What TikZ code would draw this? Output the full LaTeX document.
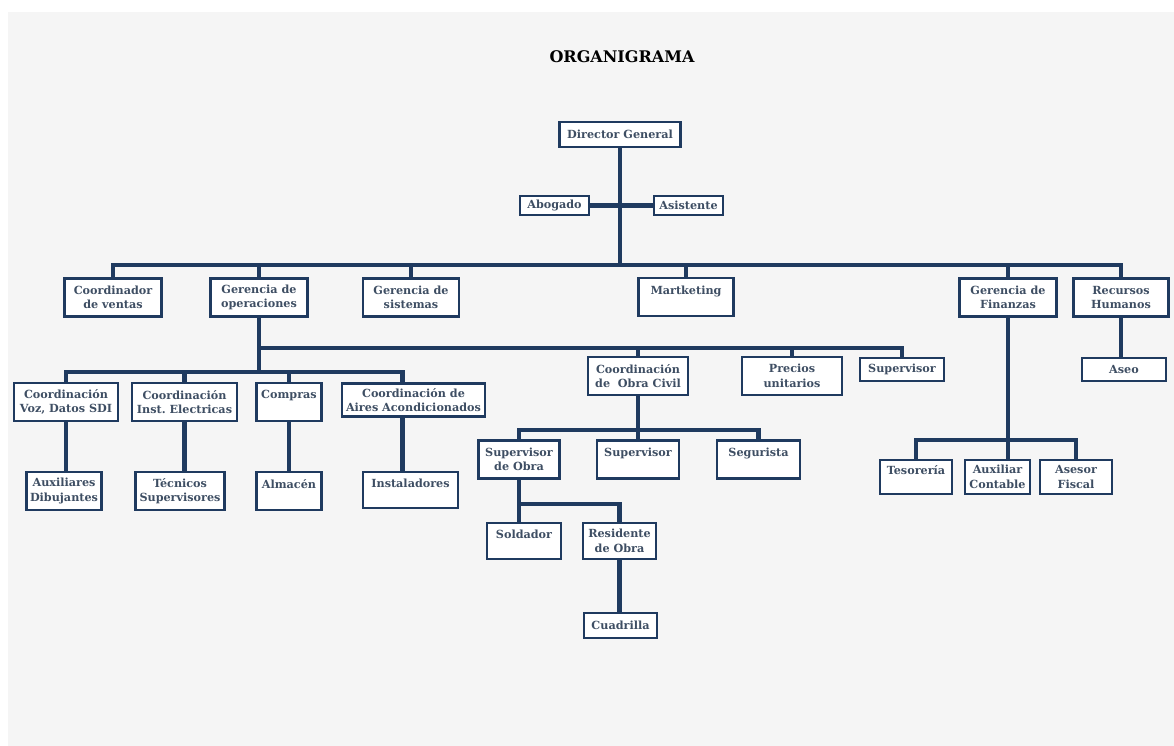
\documentclass[tikz,border=0pt]{standalone}
\usepackage{fontspec}
\setmainfont{DejaVu Serif}
\usepackage{tikz}
\usetikzlibrary{positioning, calc}
\definecolor{linec}{HTML}{1F3A5F}
\definecolor{txtc}{HTML}{3E4E63}
\definecolor{bgc}{HTML}{F5F5F5}
\newcommand{\boxfont}{\fontsize{11.2}{14.5}\selectfont\bfseries}

\begin{document}
\begin{tikzpicture}[
    x=1pt, y=-1pt,
    box/.style={rectangle, draw=linec, line width=2.2pt, fill=white, text=txtc, align=center, font=\boxfont, inner sep=1pt, minimum height=38pt},
    small/.style={box, minimum height=23pt},
    bar/.style={draw=linec, line width=4.8pt},
]
\useasboundingbox (0,0) rectangle (1174,746);
\fill[white] (0,0) rectangle (1174,746);
\fill[bgc] (8,12) rectangle (1174,746);

\node[font=\fontsize{16}{19}\selectfont\bfseries] (title) at (622,57) {ORGANIGRAMA};

% direccion
\node[small, minimum width=121pt, minimum height=25pt] (dir) at (620,134.5) {Director General};
\node[small, minimum width=69pt, minimum height=19pt] (abo) at (554.5,205.5) {Abogado};
\node[small, minimum width=69pt, minimum height=19pt] (asi) at (688.5,205.5) {Asistente};

% primer nivel
\node[box, minimum width=97pt] (cv) at (113,297.5) {Coordinador\\de ventas};
\node[box, minimum width=97pt] (gop) at (259,297.5) {Gerencia de\\operaciones};
\node[box, minimum width=96pt] (gsi) at (411,297.5) {Gerencia de\\sistemas};
\node[box, minimum width=95pt] (mkt) at (686,297) {Martketing\\~};
\node[box, minimum width=97pt] (gfi) at (1008,297.5) {Gerencia de\\Finanzas};
\node[box, minimum width=95pt] (rh) at (1121,297.5) {Recursos\\Humanos};

% operaciones
\node[box, minimum width=104pt] (cvd) at (66,402) {Coordinación\\Voz, Datos SDI};
\node[box, minimum width=105pt] (cie) at (184.5,402) {Coordinación\\Inst.\ Electricas};
\node[box, minimum width=65pt] (com) at (289,402) {Compras\\~};
\node[box, minimum width=143pt, minimum height=33pt] (aac) at (413.5,400) {Coordinación de\\Aires Acondicionados};
\node[box, minimum width=75pt] (aux) at (64,491) {Auxiliares\\Dibujantes};
\node[box, minimum width=89pt] (tec) at (180,491) {Técnicos\\Supervisores};
\node[box, minimum width=65pt] (alm) at (289,491) {Almacén\\~};
\node[box, minimum width=95pt, minimum height=36pt] (ins) at (410.5,490) {Instaladores\\~};

\node[box, minimum width=100pt] (ocv) at (638,376) {Coordinación\\de~ Obra Civil};
\node[box, minimum width=100pt] (pre) at (792,376) {Precios\\unitarios};
\node[small, minimum width=84pt] (sup) at (902,369.5) {Supervisor};

% obra civil
\node[box, minimum width=81pt] (sdo) at (519,459.5) {Supervisor\\de Obra};
\node[box, minimum width=82pt] (sv2) at (638,459.5) {Supervisor\\~};
\node[box, minimum width=83pt] (seg) at (758.5,459.5) {Segurista\\~};
\node[box, minimum width=74pt, minimum height=36pt] (sol) at (524,541) {Soldador\\~};
\node[box, minimum width=73pt, minimum height=36pt] (res) at (619.5,541) {Residente\\de Obra};
\node[small, minimum width=73pt, minimum height=25pt] (cua) at (620.5,625.5) {Cuadrilla};

% finanzas
\node[box, minimum width=72pt, minimum height=34pt] (tes) at (916,477) {Tesorería\\~};
\node[box, minimum width=65pt, minimum height=34pt] (acn) at (997.5,477) {Auxiliar\\Contable};
\node[box, minimum width=72pt, minimum height=34pt] (afi) at (1076,477) {Asesor\\Fiscal};
\node[small, minimum width=84pt] (aseo) at (1124,369.5) {Aseo};

% buses
\coordinate (b0) at (620,265);
\coordinate (b1) at (259,348);
\coordinate (b2) at (259,372);
\coordinate (b3) at (638,430);
\coordinate (b4) at (520,504);
\coordinate (b5) at (1008,440);

\draw[bar] (dir) -- (b0);
\draw[bar] (abo) -- (asi);
\foreach \n in {cv,gop,gsi,mkt,gfi,rh}
  \draw[bar] (b0) -| (\n.north);
\draw[bar] (gop) -- (b2);
\foreach \n in {ocv,pre,sup}
  \draw[bar] (b1) -| (\n.north);
\foreach \n in {cvd,cie,com}
  \draw[bar] (b2) -| (\n.north);
\draw[bar] (b2) -| ([xshift=-11pt]aac.north);
\draw[bar] (cvd.south) -- (cvd.south |- aux.north);
\draw[bar] (cie.south) -- (cie.south |- tec.north);
\draw[bar] (com.south) -- (com.south |- alm.north);
\draw[bar] ([xshift=-11pt]aac.south) -- ([xshift=-11pt]aac.south |- ins.north);
\draw[bar] (ocv) -- (b3);
\foreach \n in {sdo,sv2,seg}
  \draw[bar] (b3) -| (\n.north);
\draw[bar] (sdo.south) -- (sdo.south |- sol.north);
\draw[bar] (b4) -| (res.north);
\draw[bar] (res.south) -- (res.south |- cua.north);
\draw[bar] (gfi.south) -- (gfi.south |- acn.north);
\draw[bar] (b5) -| (tes.north);
\draw[bar] (b5) -| (afi.north);
\draw[bar] (rh.south) -- (rh.south |- aseo.north);
\end{tikzpicture}
\end{document}
